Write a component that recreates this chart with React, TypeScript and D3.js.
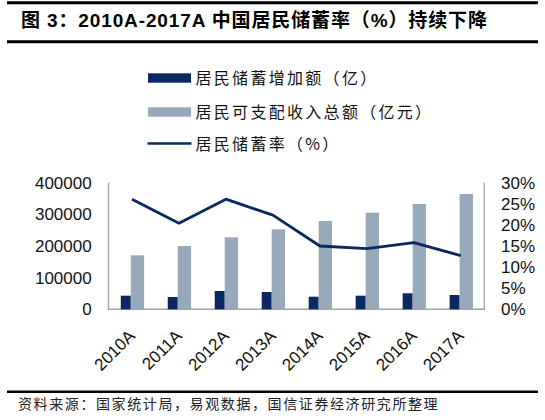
import React, { useEffect, useRef } from "react";
import * as d3 from "d3";

const years = ["2010A", "2011A", "2012A", "2013A", "2014A", "2015A", "2016A", "2017A"];
// 居民储蓄增加额（亿）
const savingIncrease = [43000, 38900, 57800, 54700, 39800, 43000, 50600, 45200];
// 居民可支配收入总额（亿元）
const disposableIncome = [170600, 200000, 227500, 252800, 279000, 305300, 332700, 364300];
// 居民储蓄率（%）
const savingRate = [26.1, 20.4, 26.1, 22.3, 15.0, 14.4, 15.8, 12.7];

const leftTicks = [0, 100000, 200000, 300000, 400000];
const rightTicks = [0, 5, 10, 15, 20, 25, 30];

const NAVY = "#0b2862";
const GRAY = "#98a9bb";
const AXIS = "#a6a6a6";
const LATIN = "'Liberation Sans', Arial, 'Noto Sans CJK SC', sans-serif";
const CJK = "'Noto Sans CJK SC', sans-serif";

export default function App() {
  const ref = useRef<SVGSVGElement>(null);

  useEffect(() => {
    if (!ref.current) return;
    const svg = d3.select(ref.current);
    svg.selectAll("*").remove();

    const left = 108.5;
    const right = 484.3;
    const top = 182.7;
    const bottom = 309.3;

    const x = d3.scaleBand<string>().domain(years).range([left, right]).padding(0);
    const yL = d3.scaleLinear().domain([0, 400000]).range([bottom, top]);
    const yR = d3.scaleLinear().domain([0, 30]).range([bottom, top]);
    const bw = x.bandwidth();
    const cx = (d: string) => x(d)! + bw / 2;

    // header rules + title
    [2.7, 41.7].forEach((yy) =>
      svg.append("line").attr("x1", 7).attr("x2", 538).attr("y1", yy).attr("y2", yy)
        .attr("stroke", "#000").attr("stroke-width", 3)
    );
    svg.append("text")
      .attr("x", 21).attr("y", 27)
      .attr("font-family", LATIN).attr("font-weight", "bold").attr("font-size", 19)
      .attr("textLength", 466).attr("lengthAdjust", "spacing")
      .text("图 3：2010A-2017A 中国居民储蓄率（%）持续下降");

    // legend
    const legend = [
      { label: "居民储蓄增加额（亿）", kind: "bar", color: NAVY, y: 78 },
      { label: "居民可支配收入总额（亿元）", kind: "bar", color: GRAY, y: 112 },
      { label: "居民储蓄率（%）", kind: "line", color: NAVY, y: 143.5 },
    ];
    legend.forEach((l) => {
      if (l.kind === "bar") {
        svg.append("rect").attr("x", 148).attr("y", l.y - 4.7).attr("width", 43).attr("height", 9.4)
          .attr("fill", l.color);
      } else {
        svg.append("line").attr("x1", 147.5).attr("x2", 191.5).attr("y1", l.y).attr("y2", l.y)
          .attr("stroke", l.color).attr("stroke-width", 2.6);
      }
      svg.append("text")
        .attr("x", 195.5).attr("y", l.y + 6)
        .attr("font-family", CJK).attr("font-size", 16).attr("letter-spacing", 2.3)
        .attr("fill", "#111")
        .text(l.label);
    });

    // axes lines
    svg.append("path")
      .attr("d", `M${left},${top}V${bottom}H${right}V${top}`)
      .attr("fill", "none").attr("stroke", AXIS).attr("stroke-width", 1.4);

    // bars
    const darkW = bw * 0.213;
    const grayW = bw * 0.284;
    svg.append("g").selectAll("rect").data(years).join("rect")
      .attr("x", (d) => cx(d) - darkW - 1.2)
      .attr("y", (d, i) => yL(savingIncrease[i]))
      .attr("width", darkW)
      .attr("height", (d, i) => bottom - yL(savingIncrease[i]))
      .attr("fill", NAVY);
    svg.append("g").selectAll("rect").data(years).join("rect")
      .attr("x", (d) => cx(d) - 1.2)
      .attr("y", (d, i) => yL(disposableIncome[i]))
      .attr("width", grayW)
      .attr("height", (d, i) => bottom - yL(disposableIncome[i]))
      .attr("fill", GRAY);

    // line
    const line = d3.line<number>()
      .x((d, i) => cx(years[i]))
      .y((d) => yR(d));
    svg.append("path")
      .datum(savingRate)
      .attr("d", line)
      .attr("fill", "none")
      .attr("stroke", NAVY)
      .attr("stroke-width", 2.8)
      .attr("stroke-linejoin", "round");

    // left tick labels
    svg.append("g").selectAll("text").data(leftTicks).join("text")
      .attr("x", 91.7).attr("y", (d) => yL(d)).attr("dy", "0.36em")
      .attr("text-anchor", "end")
      .attr("font-family", LATIN).attr("font-size", 17).attr("fill", "#111")
      .text((d) => String(d));

    // right tick labels
    svg.append("g").selectAll("text").data(rightTicks).join("text")
      .attr("x", 501).attr("y", (d) => yR(d)).attr("dy", "0.36em")
      .attr("font-family", LATIN).attr("font-size", 17).attr("fill", "#111")
      .text((d) => `${d}%`);

    // x labels
    svg.append("g").selectAll("text").data(years).join("text")
      .attr("transform", (d) => `translate(${cx(d) + 4},${337}) rotate(-45)`)
      .attr("text-anchor", "end")
      .attr("font-family", LATIN).attr("font-size", 17).attr("fill", "#111")
      .text((d) => d);

    // source
    svg.append("line").attr("x1", 7).attr("x2", 538).attr("y1", 391.7).attr("y2", 391.7)
      .attr("stroke", "#000").attr("stroke-width", 2.4);
    svg.append("text")
      .attr("x", 18).attr("y", 408.5)
      .attr("font-family", CJK).attr("font-size", 14).attr("letter-spacing", 1.6)
      .attr("fill", "#222")
      .text("资料来源：国家统计局，易观数据，国信证券经济研究所整理");
  }, []);

  return (
    <svg
      ref={ref}
      width={545}
      height={420}
      style={{ position: "absolute", left: 0, top: 0, background: "#fff" }}
    />
  );
}
